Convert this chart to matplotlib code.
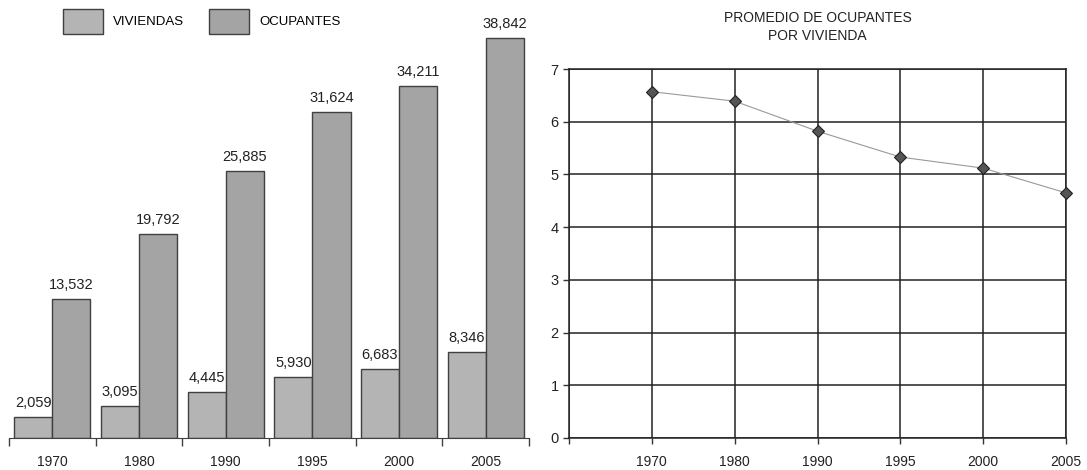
import matplotlib
matplotlib.use("Agg")
import matplotlib.pyplot as plt
import numpy as np

plt.rcParams['font.family'] = ['Liberation Sans', 'DejaVu Sans']

years = ['1970', '1980', '1990', '1995', '2000', '2005']
viviendas = [2059, 3095, 4445, 5930, 6683, 8346]
ocupantes = [13532, 19792, 25885, 31624, 34211, 38842]
promedio = [6.57, 6.39, 5.82, 5.33, 5.12, 4.65]

fig = plt.figure(figsize=(10.87, 4.7), dpi=100)

# bar chart, left
ax1 = fig.add_axes([0.0083, 0.0681, 0.4784, 0.8766])
x = np.arange(len(years))
w = 0.44
b1 = ax1.bar(x + 0.5 - w/2, viviendas, w, color='#b4b4b4', edgecolor='#404040', linewidth=1, label='VIVIENDAS')
b2 = ax1.bar(x + 0.5 + w/2, ocupantes, w, color='#a4a4a4', edgecolor='#404040', linewidth=1, label='OCUPANTES')
for bars, vals in [(b1, viviendas), (b2, ocupantes)]:
    for r, v in zip(bars, vals):
        ax1.annotate('{:,}'.format(v), (r.get_x() + r.get_width()/2, v),
                     xytext=(0, 5), textcoords='offset points',
                     ha='center', va='bottom', fontsize=10.5, color='#222222')
ax1.set_xlim(0, 6)
ax1.set_ylim(0, 40000)
ax1.set_xticks(np.arange(7))
ax1.set_xticklabels([])
ax1.set_xticks(x + 0.5, minor=True)
ax1.set_xticklabels(years, minor=True, fontsize=10, color='#222222')
ax1.tick_params(axis='x', which='major', length=6, width=1, color='#404040', direction='out')
ax1.tick_params(axis='x', which='minor', length=0, pad=12)
ax1.set_yticks([])
for s in ['top', 'right', 'left']:
    ax1.spines[s].set_visible(False)
ax1.spines['bottom'].set_color('#404040')
ax1.legend(loc='upper left', bbox_to_anchor=(63/1087, 1 - 9/470), bbox_transform=fig.transFigure,
           ncol=2, frameon=False, fontsize=9.5, handlelength=3.0, handleheight=2.5,
           handletextpad=0.8, columnspacing=1.9, borderpad=0, borderaxespad=0)

# line chart, right
ax2 = fig.add_axes([0.5235, 0.0681, 0.4572, 0.785])
px = np.arange(1, len(years) + 1)
ax2.plot(px, promedio, color='#999999', linewidth=0.8, marker='D', markersize=6.5,
         markerfacecolor='#555555', markeredgecolor='#222222', markeredgewidth=0.8,
         zorder=3, clip_on=False)
ax2.set_xlim(0, 6)
ax2.set_ylim(0, 7)
ax2.set_xticks(np.arange(7))
ax2.set_xticklabels([''] + years, fontsize=10, color='#222222')
ax2.set_yticks(np.arange(8))
ax2.set_yticklabels([str(i) for i in range(8)], fontsize=10.5, color='#222222')
ax2.tick_params(axis='both', length=4, width=1, color='#333333', direction='out')
ax2.tick_params(axis='x', pad=8)
ax2.grid(True, color='#222222', linewidth=1.1)
ax2.set_axisbelow(True)
for s in ax2.spines.values():
    s.set_color('#222222')
    s.set_linewidth(1.1)
ax2.set_title('PROMEDIO DE OCUPANTES\nPOR VIVIENDA', fontsize=10, color='#222222', pad=21, linespacing=1.35)

fig.savefig('out.png', dpi=100)
